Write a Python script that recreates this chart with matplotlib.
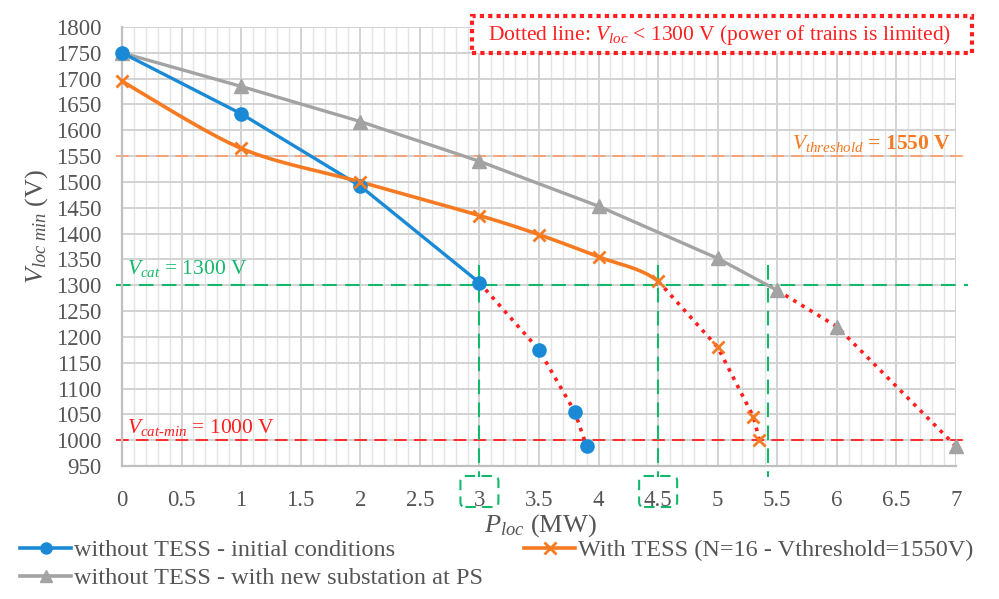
import numpy as np
import matplotlib
matplotlib.use("Agg")
import matplotlib.pyplot as plt
from matplotlib.lines import Line2D
from matplotlib.patches import Rectangle, FancyBboxPatch
from matplotlib.transforms import IdentityTransform

plt.rcParams['font.family'] = ['Liberation Serif', 'DejaVu Serif']
plt.rcParams['mathtext.fontset'] = 'custom'
plt.rcParams['mathtext.rm'] = 'Liberation Serif'
plt.rcParams['mathtext.it'] = 'Liberation Serif:italic'
plt.rcParams['mathtext.bf'] = 'Liberation Serif:bold'

# ---------------- data ----------------
blue_x = [0, 1, 2, 3]
blue_y = [1750, 1632, 1492, 1305]
blue_dot_x = [3, 3.5, 3.8, 3.9]
blue_dot_y = [1305, 1175, 1055, 988]

orange_x = [0, 1, 2, 3, 3.5, 4, 4.5]
orange_y = [1695, 1565, 1500, 1435, 1398, 1355, 1308]
orange_dot_x = [4.5, 5, 5.3, 5.35]
orange_dot_y = [1308, 1180, 1045, 1000]

gray_x = [0, 1, 2, 3, 4, 5, 5.5]
gray_y = [1750, 1685, 1617, 1540, 1453, 1352, 1290]
gray_dot_x = [5.5, 6, 7]
gray_dot_y = [1290, 1220, 988]

v_threshold = 1550
v_cat = 1300
v_cat_min = 1000
limit_powers = [3, 4.5, 5.42]
boxed_ticks = [3, 4.5]

x_ticks = np.arange(0, 7.01, 0.5)
y_ticks = np.arange(950, 1801, 50)

labels = ["without TESS - initial conditions",
          "without TESS - with new substation at PS",
          "With TESS (N=16 - Vthreshold=1550V)"]

# ---------------- colours ----------------
c_blue = '#1a8ad6'
c_orange = '#f57a22'
c_gray = '#a3a3a3'
c_green = '#14b86a'
c_red = '#ff1f1f'
c_text = '#555555'


def catmull(xs, ys, xall, yall, n=30):
    """Smooth rendering (Excel-like) through given points; tangents use neighbours."""
    px, py = [], []
    xall = list(xall); yall = list(yall)
    for i in range(len(xs) - 1):
        j = xall.index(xs[i])
        p1 = np.array([xall[j], yall[j]])
        p2 = np.array([xall[j + 1], yall[j + 1]])
        p0 = np.array([xall[j - 1], yall[j - 1]]) if j > 0 else p1
        p3 = np.array([xall[j + 2], yall[j + 2]]) if j + 2 < len(xall) else p2
        t = np.linspace(0, 1, n)[:, None]
        m1 = (p2 - p0) / 2 * 0.9
        m2 = (p3 - p1) / 2 * 0.9
        h00 = 2 * t**3 - 3 * t**2 + 1
        h10 = t**3 - 2 * t**2 + t
        h01 = -2 * t**3 + 3 * t**2
        h11 = t**3 - t**2
        seg = h00 * p1 + h10 * m1 + h01 * p2 + h11 * m2
        px.extend(seg[:, 0]); py.extend(seg[:, 1])
    return px, py


fig = plt.figure(figsize=(9.99, 5.99), dpi=100)
ax = fig.add_axes([122 / 999, 1 - 466 / 599, (956 - 122) / 999, (466 - 27) / 599])
ax.set_xlim(0, 7)
ax.set_ylim(950, 1800)

ax.set_xticks(x_ticks)
ax.set_xticklabels([('%g' % v) for v in x_ticks])
ax.set_xticks(np.arange(0, 7.001, 0.1), minor=True)
ax.set_yticks(y_ticks)
ax.set_yticklabels([str(int(v)) for v in y_ticks])
ax.tick_params(axis='both', which='both', length=0, labelsize=16.5, labelcolor=c_text)
ax.tick_params(axis='x', pad=17)
ax.tick_params(axis='y', pad=15)
ax.grid(True, which='major', color='#d2d2d2', lw=1.4)
ax.grid(True, which='minor', axis='x', color='#e4e4e4', lw=1.0)
ax.set_axisbelow(True)
for s in ['top', 'right']:
    ax.spines[s].set_visible(False)
for s in ['left', 'bottom']:
    ax.spines[s].set_color('#bfbfbf')
    ax.spines[s].set_linewidth(1.6)

# reference lines
ax.plot([-0.05, 7.1], [v_threshold] * 2, ls=(0, (7, 4)), color='#f9a070', lw=1.3, clip_on=False, zorder=2)
ax.plot([-0.05, 7.1], [v_cat] * 2, ls=(0, (7, 4)), color=c_green, lw=1.5, clip_on=False, zorder=2)
ax.plot([-0.05, 7.1], [v_cat_min] * 2, ls=(0, (7, 4)), color=c_red, lw=1.3, clip_on=False, zorder=2)
for xv in limit_powers:
    ax.plot([xv, xv], [1340, 929], ls=(0, (7, 4)), color=c_green, lw=1.5, clip_on=False, zorder=2)

# dotted parts
dot_style = dict(color=c_red, lw=2.6, ls=(0, (1, 1.6)), zorder=3, clip_on=False)
ax.plot(blue_dot_x, blue_dot_y, **dot_style)
ax.plot(orange_dot_x, orange_dot_y, **dot_style)
ax.plot(gray_dot_x, gray_dot_y, **dot_style)

# solid lines
ax.plot(gray_x, gray_y, color=c_gray, lw=2.4, zorder=4)
ax.plot(blue_x, blue_y, color=c_blue, lw=2.4, zorder=5)
sx, sy = catmull(orange_x, orange_y, orange_x + orange_dot_x[1:], orange_y + orange_dot_y[1:])
ax.plot(sx, sy, color=c_orange, lw=2.6, zorder=6)

# markers
ax.plot(gray_x + gray_dot_x[1:], gray_y + gray_dot_y[1:], ls='none', marker='^', ms=10.5,
        color=c_gray, mec=c_gray, zorder=7, clip_on=False)
ax.plot(blue_x + blue_dot_x[1:], blue_y + blue_dot_y[1:], ls='none', marker='o', ms=9.5,
        color=c_blue, zorder=8, clip_on=False)
ax.plot(orange_x + orange_dot_x[1:], orange_y + orange_dot_y[1:], ls='none', marker='x', ms=9,
        mew=2, color=c_orange, zorder=9, clip_on=False)

# annotations
ax.text(6.96, 1574, r'$V_{threshold}$' + ' = 1550 V', color=c_orange, fontsize=15.5,
        fontweight='bold', ha='right', va='center')
ax.text(0.04, 1333, r'$V_{cat}$' + ' = 1300 V', color=c_green, fontsize=15.5, ha='left', va='center')
ax.text(0.04, 1025, r'$V_{cat\text{-}min}$' + ' = 1000 V', color=c_red, fontsize=15.5,
        ha='left', va='center')

# axis titles
fig.text(540 / 999, 1 - 526 / 599, r'$P_{loc}$ (MW)', fontsize=19, color=c_text, ha='center', va='center')
fig.text(37 / 999, 1 - 226 / 599, r'$V_{loc\ min}$ (V)', fontsize=19, color=c_text, ha='center',
         va='center', rotation=90)

# top dotted box
fig.patches.append(Rectangle((472 / 999, 1 - 53 / 599), 500 / 999, 37 / 599, transform=fig.transFigure,
                             facecolor='white', edgecolor=c_red, lw=3, ls=(0, (1, 1)), zorder=10))
fig.text(720 / 999, 1 - 35 / 599, 'Dotted line: ' + r'$V_{loc}$' + ' < 1300 V (power of trains is limited)',
         color=c_red, fontsize=15.5, ha='center', va='center', zorder=11)

# dashed boxes around x tick labels
fig.canvas.draw()
for xv in boxed_ticks:
    xd, yd = ax.transData.transform((xv, 950))
    w, h = 38, 31
    fig.patches.append(FancyBboxPatch((xd - w / 2, yd - 10 - h), w, h,
                                      boxstyle='round,pad=0,rounding_size=5',
                                      transform=IdentityTransform(), facecolor='none',
                                      edgecolor=c_green, lw=1.5, ls=(0, (5, 3)), zorder=12))

# legend
h_blue = Line2D([], [], color=c_blue, lw=2.6, marker='o', ms=8)
h_gray = Line2D([], [], color=c_gray, lw=2.6, marker='^', ms=9)
h_orange = Line2D([], [], color=c_orange, lw=2.6, marker='x', ms=9, mew=2)
fig.legend([h_blue, h_gray, h_orange], labels, ncol=2, loc='upper left',
           bbox_to_anchor=(20 / 999, 1 - 539 / 599), frameon=False, fontsize=17.5, labelcolor=c_text,
           handlelength=2.1, handletextpad=0.12, columnspacing=1.7, labelspacing=0.25,
           borderaxespad=0, borderpad=0.0, numpoints=1)

fig.savefig('out.png', dpi=100)
